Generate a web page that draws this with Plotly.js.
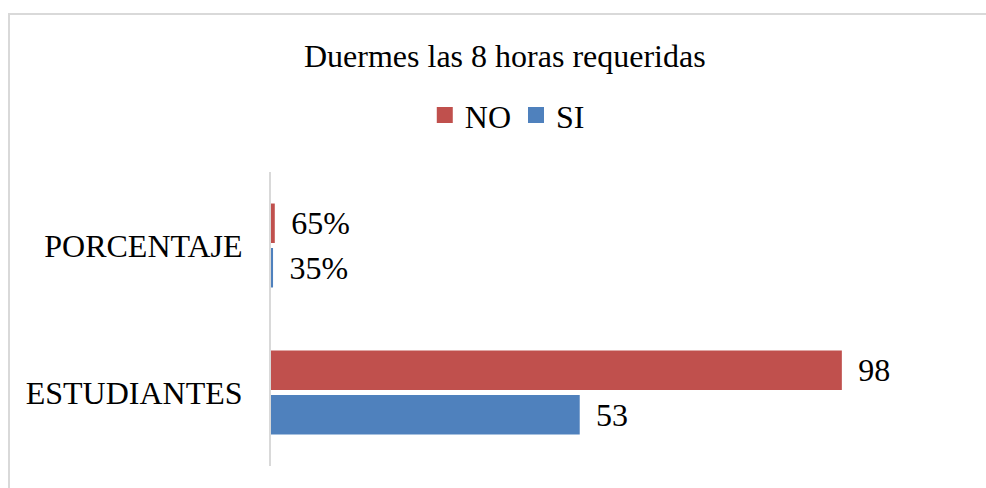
<!DOCTYPE html>
<html>
<head>
<meta charset="utf-8">
<script src="https://cdn.plot.ly/plotly-3.0.1.min.js"></script>
<style>
html,body{margin:0;padding:0;background:#fff;}
#chart{width:986px;height:488px;}
#reflow{position:absolute;left:600px;top:440px;width:380px;font:10px monospace;color:#fff;white-space:pre-wrap;}
</style>
</head>
<body>
<div id="chart"></div>
<div id="reflow"></div>
<script>
const categories = ['ESTUDIANTES', 'PORCENTAJE'];
const siValues = [53, 0.35];
const noValues = [98, 0.65];
const siLabels = ['53', '35%'];
const noLabels = ['98', '65%'];
const seriesNames = ['SI', 'NO'];
const seriesColors = ['#4F81BD', '#C0504D'];
const titleText = 'Duermes las 8 horas requeridas';

const FONT = 'Liberation Serif';
function f() { return {family: FONT, size: 32, color: '#000'}; }

const traces = [
  {
    type: 'bar', orientation: 'h', name: seriesNames[0], showlegend: false,
    y: categories, x: siValues, text: siLabels,
    texttemplate: '\u00a0\u2006%{text}', textposition: 'outside', cliponaxis: false,
    textfont: f(), marker: {color: seriesColors[0]}, hoverinfo: 'none'
  },
  {
    type: 'bar', orientation: 'h', name: seriesNames[1], showlegend: false,
    y: categories, x: noValues, text: noLabels,
    texttemplate: '\u00a0\u2006%{text}', textposition: 'outside', cliponaxis: false,
    textfont: f(), marker: {color: seriesColors[1]}, hoverinfo: 'none'
  },
  {
    type: 'scatter', mode: 'markers', name: seriesNames[0], x: [null], y: [null],
    marker: {symbol: 'square', size: 16, color: seriesColors[0]}, hoverinfo: 'none'
  },
  {
    type: 'scatter', mode: 'markers', name: seriesNames[1], x: [null], y: [null],
    marker: {symbol: 'square', size: 16, color: seriesColors[1]}, hoverinfo: 'none'
  }
];

const layout = {
  width: 986, height: 488,
  margin: {l: 271, r: 16, t: 172, b: 22},
  paper_bgcolor: '#fff', plot_bgcolor: '#fff',
  font: f(),
  title: {text: titleText, font: f(),
          xref: 'container', x: 0.512, xanchor: 'center',
          yref: 'container', y: 1 - 56/488, yanchor: 'middle'},
  barmode: 'group', bargap: 0.395, bargroupgap: 0.112,
  showlegend: true,
  legend: {orientation: 'h', traceorder: 'reversed', x: 0.22, xanchor: 'left',
           y: 1.193, yanchor: 'middle', font: f(), bgcolor: 'rgba(0,0,0,0)'},
  xaxis: {visible: false, range: [0, 120], fixedrange: true},
  yaxis: {showline: true, linecolor: '#d9d9d9', linewidth: 2, showgrid: false, zeroline: false,
          ticks: '', ticklabelstandoff: 20, tickfont: f(), fixedrange: true},
  shapes: [{type: 'rect', xref: 'paper', yref: 'paper',
            x0: (9 - 271) / 699, x1: (1000 - 271) / 699,
            y0: (466 - 500) / 294, y1: (466 - 14) / 294,
            line: {color: '#d9d9d9', width: 2}, fillcolor: 'rgba(0,0,0,0)', layer: 'below'}]
};

Plotly.newPlot('chart', traces, layout, {displayModeBar: false, staticPlot: true}).then(function(){
  // force a text re-layout so every SVG text picks up the serif face
  var lt = document.querySelector('.legendtext');
  var bt = document.querySelector('.bartext');
  var out = '.' + (lt ? lt.getComputedTextLength() : 0) * 0 + (bt ? bt.getComputedTextLength() : 0) * 0;
  document.getElementById('reflow').textContent = out.length ? '.' : '';
});
</script>
</body>
</html>
